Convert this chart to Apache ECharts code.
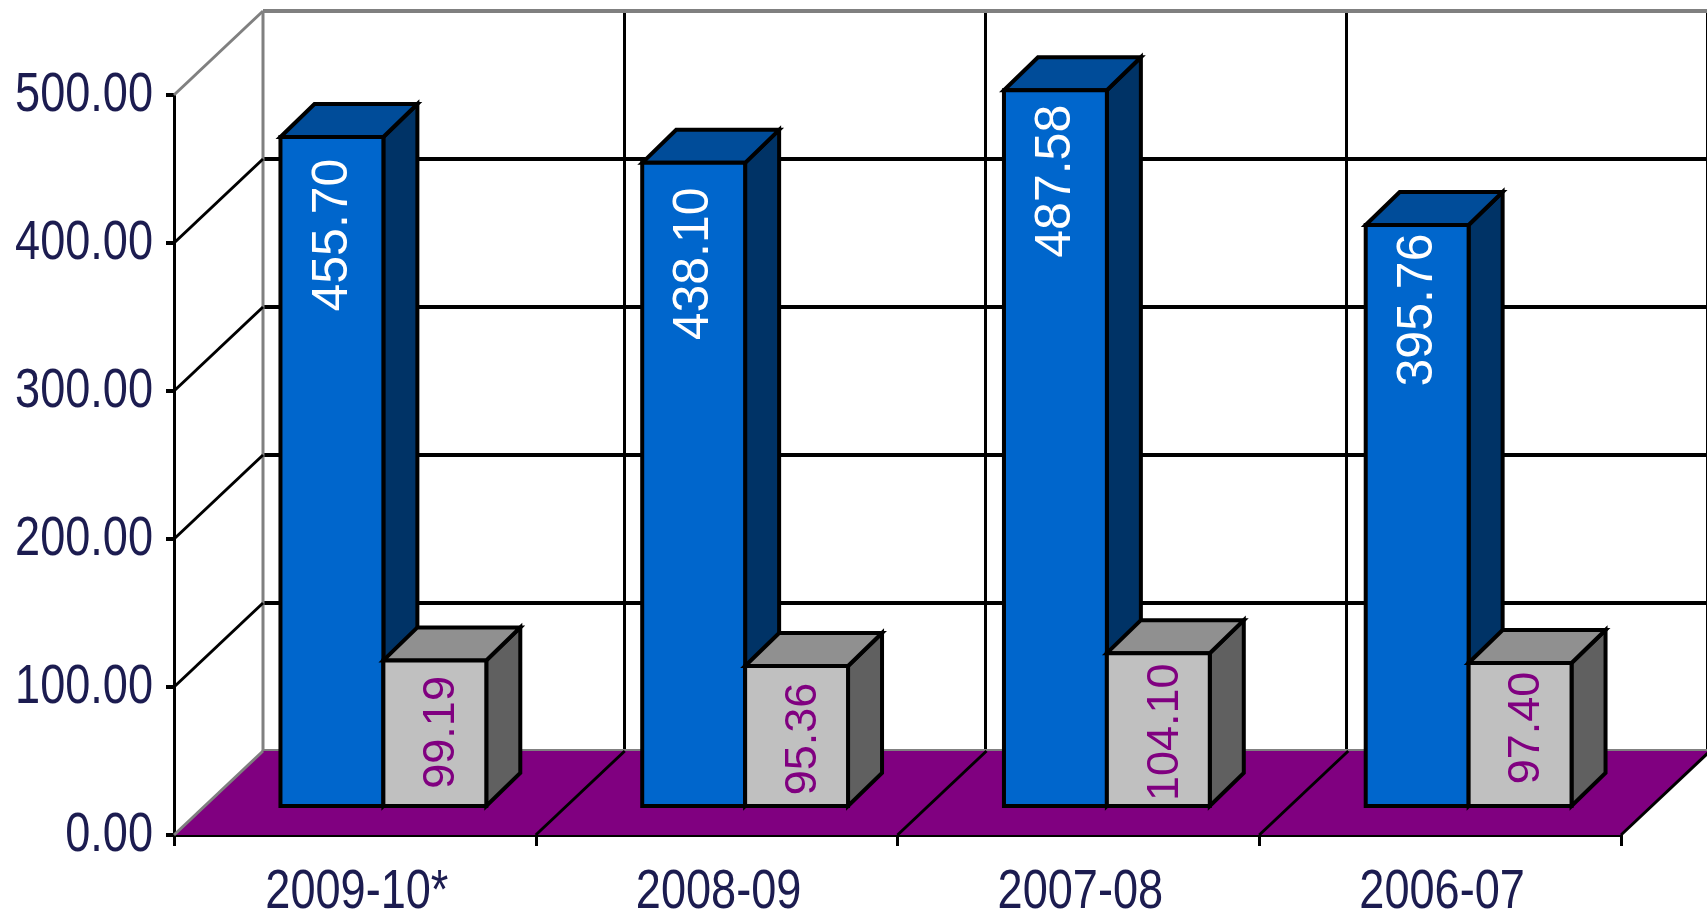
<!DOCTYPE html>
<html>
<head>
<meta charset="utf-8">
<title>chart</title>
<style>
html,body{margin:0;padding:0;background:#fff;}
#chart{width:1707px;height:917px;}
</style>
<script src="https://cdn.jsdelivr.net/npm/echarts@6/dist/echarts.min.js"></script>
</head>
<body>
<div id="chart"></div>
<script>
'use strict';
var categories = ['2009-10*', '2008-09', '2007-08', '2006-07'];
var blueValues = [455.70, 438.10, 487.58, 395.76];
var greyValues = [99.19, 95.36, 104.10, 97.40];
var yTicks = [0, 100, 200, 300, 400, 500];

// how far each label sits below the bar top, excel put them unevenly
var blueLabelGap = [98, 101, 91, 85];
var greyLabelGap = [72, 73, 79, 65];

var FONT = '"Liberation Sans", Arial, sans-serif';
var TEXT_COLOR = '#1c1c50';
var WALL = '#808080';
var FLOOR_DX = 89, FLOOR_DY = 84;
var BAR_DX = 34, BAR_DY = 33;
var BAR_WIDTH = 0.2845;
// the source picture is stretched upward, so axis text is squeezed sideways
var TEXT_SQUEEZE = 0.82;

var myChart = echarts.init(document.getElementById('chart'));

function poly(points, fill) {
    return {
        type: 'polygon',
        shape: {points: points},
        style: {fill: fill, stroke: '#000', lineWidth: 4, lineJoin: 'miter'}
    };
}

function line(p1, p2, color, width) {
    return {
        type: 'line',
        shape: {x1: p1[0], y1: p1[1], x2: p2[0], y2: p2[1]},
        style: {stroke: color, lineWidth: width}
    };
}

function axisText(str, x, y, align) {
    return {
        type: 'text',
        x: x,
        y: y,
        scaleX: TEXT_SQUEEZE,
        style: {
            text: str,
            fill: TEXT_COLOR,
            font: '55px ' + FONT,
            align: align,
            verticalAlign: 'middle'
        }
    };
}

// floor, the diagonals running back to the wall and the squeezed axis labels
function renderFloor(params, api) {
    var band = api.size([1, 0])[0];
    var o = api.coord([0, 0]);
    var x0 = o[0] - band / 2;
    var x1 = x0 + band * categories.length;
    var y0 = o[1];
    var children = [{
        type: 'polygon',
        shape: {points: [[x0, y0], [x1, y0], [x1 + FLOOR_DX, y0 - FLOOR_DY], [x0 + FLOOR_DX, y0 - FLOOR_DY]]},
        style: {fill: '#800080'}
    }];
    for (var k = 1; k <= categories.length; k++) {
        var x = x0 + band * k;
        children.push(line([x, y0], [x + FLOOR_DX, y0 - FLOOR_DY], '#000', 3));
    }
    yTicks.forEach(function (t) {
        var y = api.coord([0, t])[1];
        var grey = t === 0 || t === 500;
        children.push(line([x0, y], [x0 + FLOOR_DX, y - FLOOR_DY], grey ? WALL : '#000', 3));
        children.push(axisText(t.toFixed(2), x0 - 21, y + 1, 'right'));
    });
    categories.forEach(function (c, i) {
        children.push(axisText(c, api.coord([i, 0])[0] + 2, y0 + 58, 'center'));
    });
    return {type: 'group', children: children};
}

// grey frame of the back wall
function renderWall(params, api) {
    var band = api.size([1, 0])[0];
    var x0 = api.coord([0, 0])[0] - band / 2;
    var x1 = x0 + band * categories.length;
    var yb = api.coord([0, 0])[1];
    var yt = api.coord([0, 500])[1];
    return {
        type: 'group',
        children: [
            line([x0, yt], [x1, yt], WALL, 4),
            line([x0, yb], [x1, yb], WALL, 4),
            line([x0, yt], [x0, yb], WALL, 3)
        ]
    };
}

function barRenderer(side, colors, labelColor, labelSize, labelGap, labelDx) {
    return function (params, api) {
        var base = api.coord([api.value(0), 0]);
        var top = api.coord([api.value(0), api.value(1)]);
        var w = api.size([1, 0])[0] * BAR_WIDTH;
        var xl = side < 0 ? base[0] - w : base[0];
        var xr = xl + w;
        var yt = top[1], yb = base[1];
        return {
            type: 'group',
            children: [
                poly([[xr, yt], [xr + BAR_DX, yt - BAR_DY], [xr + BAR_DX, yb - BAR_DY], [xr, yb]], colors.side),
                poly([[xl, yt], [xl + BAR_DX, yt - BAR_DY], [xr + BAR_DX, yt - BAR_DY], [xr, yt]], colors.top),
                poly([[xl, yt], [xr, yt], [xr, yb], [xl, yb]], colors.front),
                {
                    type: 'text',
                    x: (xl + xr) / 2 + labelDx,
                    y: yt + labelGap[params.dataIndex],
                    rotation: Math.PI / 2,
                    style: {
                        text: api.value(1).toFixed(2),
                        fill: labelColor,
                        font: labelSize + 'px ' + FONT,
                        align: 'center',
                        verticalAlign: 'middle'
                    }
                }
            ]
        };
    };
}

function hiddenX(grid) {
    return {type: 'category', gridIndex: grid, data: categories, show: false};
}
function hiddenY(grid) {
    return {type: 'value', gridIndex: grid, min: 0, max: 500, interval: 100, show: false};
}

var option = {
    backgroundColor: '#fff',
    animation: false,
    grid: [
        {left: 174, top: 95, width: 1447, height: 740},   // front plane, visible axes
        {left: 263, top: 11, width: 1447, height: 740},   // back wall
        {left: 202.5, top: 72, width: 1447, height: 734}  // plane the bars stand on
    ],
    xAxis: [
        {
            type: 'category',
            gridIndex: 0,
            data: categories,
            axisLine: {lineStyle: {color: '#000', width: 4}},
            axisTick: {show: true, length: 11, lineStyle: {color: '#000', width: 3}},
            axisLabel: {show: false}
        },
        {
            type: 'category',
            gridIndex: 1,
            data: categories,
            axisLine: {show: false},
            axisTick: {show: false},
            axisLabel: {show: false},
            splitLine: {show: true, showMinLine: false, lineStyle: {color: '#000', width: 3}}
        },
        hiddenX(2)
    ],
    yAxis: [
        {
            type: 'value',
            gridIndex: 0,
            min: 0,
            max: 500,
            interval: 100,
            axisLine: {show: true, lineStyle: {color: '#000', width: 3}},
            axisTick: {show: true, length: 8, lineStyle: {color: '#000', width: 4}},
            axisLabel: {show: false},
            splitLine: {show: false}
        },
        {
            type: 'value',
            gridIndex: 1,
            min: 0,
            max: 500,
            interval: 100,
            axisLine: {show: false},
            axisTick: {show: false},
            axisLabel: {show: false},
            splitLine: {show: true, showMinLine: false, showMaxLine: false, lineStyle: {color: '#000', width: 4}}
        },
        hiddenY(2)
    ],
    series: [
        {
            type: 'custom',
            xAxisIndex: 1,
            yAxisIndex: 1,
            z: 1,
            clip: false,
            renderItem: renderWall,
            data: [[0, 0]]
        },
        {
            type: 'custom',
            xAxisIndex: 0,
            yAxisIndex: 0,
            z: 2,
            clip: false,
            renderItem: renderFloor,
            data: [[0, 0]]
        },
        {
            name: 'blue',
            type: 'custom',
            xAxisIndex: 2,
            yAxisIndex: 2,
            z: 3,
            clip: false,
            renderItem: barRenderer(-1, {front: '#0066CC', top: '#004C99', side: '#003366'}, '#ffffff', 50, blueLabelGap, 1),
            data: blueValues.map(function (v, i) { return [i, v]; })
        },
        {
            name: 'grey',
            type: 'custom',
            xAxisIndex: 2,
            yAxisIndex: 2,
            z: 4,
            clip: false,
            renderItem: barRenderer(1, {front: '#C0C0C0', top: '#909090', side: '#606060'}, '#800080', 45, greyLabelGap, 7),
            data: greyValues.map(function (v, i) { return [i, v]; })
        }
    ]
};
myChart.setOption(option);
</script>
</body>
</html>
